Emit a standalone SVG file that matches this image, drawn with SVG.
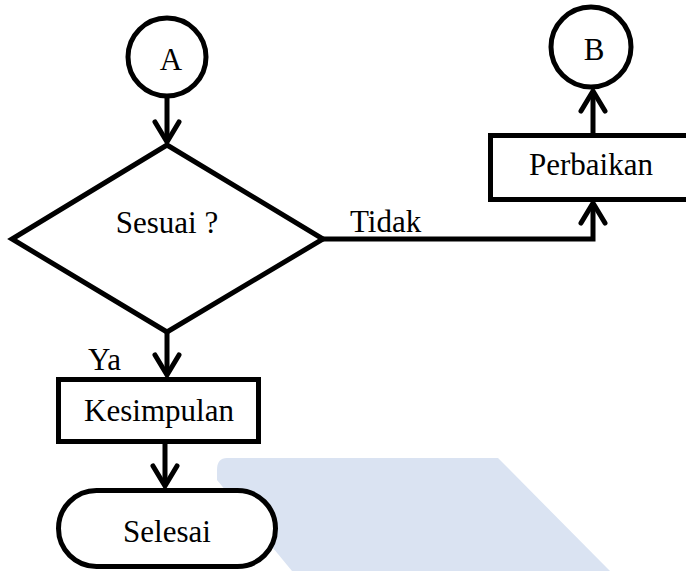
<svg xmlns="http://www.w3.org/2000/svg" width="686" height="571" viewBox="0 0 686 571">
<style>
.shape{fill:#ffffff;stroke:#000000;stroke-width:5}
.conn{fill:none;stroke:#000000;stroke-width:5}
.lbl{font-family:"Liberation Serif","Times New Roman",serif;font-size:31px;fill:#000000}
.mid{text-anchor:middle}
</style>
<defs>
<marker id="arr" markerUnits="userSpaceOnUse" viewBox="-24 -16 28 32" refX="0" refY="0" markerWidth="28" markerHeight="32" orient="auto" overflow="visible">
<path d="M -20 -12 L 0 0 L -20 12" fill="none" stroke="#000000" stroke-width="5" stroke-linecap="round"/>
</marker>
</defs>
<rect width="686" height="571" fill="#ffffff"/>
<path id="watermark" d="M 227 458 L 498 458 L 610 571 L 292 571 L 217 480 L 217 470 Q 217 458 227 458 Z" fill="#dae3f2"/>
<g id="connectors">
<line class="conn" x1="167" y1="96" x2="167" y2="142" marker-end="url(#arr)"/>
<line class="conn" x1="167" y1="332" x2="167" y2="375" marker-end="url(#arr)"/>
<line class="conn" x1="165" y1="444" x2="165" y2="486" marker-end="url(#arr)"/>
<polyline class="conn" points="323,239 593,239 593,203" marker-end="url(#arr)"/>
<line class="conn" x1="593" y1="133" x2="593" y2="91" marker-end="url(#arr)"/>
<text class="lbl" x="350" y="232">Tidak</text>
<text class="lbl" x="88" y="370">Ya</text>
</g>
<g id="nodeA">
<circle class="shape" cx="167" cy="57" r="39"/>
<text class="lbl mid" x="171" y="70">A</text>
</g>
<g id="nodeB">
<circle class="shape" cx="591" cy="47" r="40"/>
<text class="lbl mid" x="594" y="60">B</text>
</g>
<g id="nodeSesuai">
<polygon class="shape" points="167,145 323,239 167,332 12,239"/>
<text class="lbl mid" x="167" y="233">Sesuai ?</text>
</g>
<g id="nodePerbaikan">
<rect class="shape" x="490.5" y="135.5" width="210" height="64"/>
<text class="lbl mid" x="591" y="175">Perbaikan</text>
</g>
<g id="nodeKesimpulan">
<rect class="shape" x="58.5" y="379.5" width="200" height="62"/>
<text class="lbl mid" x="159" y="421">Kesimpulan</text>
</g>
<g id="nodeSelesai">
<rect class="shape" x="58.5" y="490.5" width="217" height="76" rx="38" ry="38"/>
<text class="lbl mid" x="167" y="542">Selesai</text>
</g>
</svg>
